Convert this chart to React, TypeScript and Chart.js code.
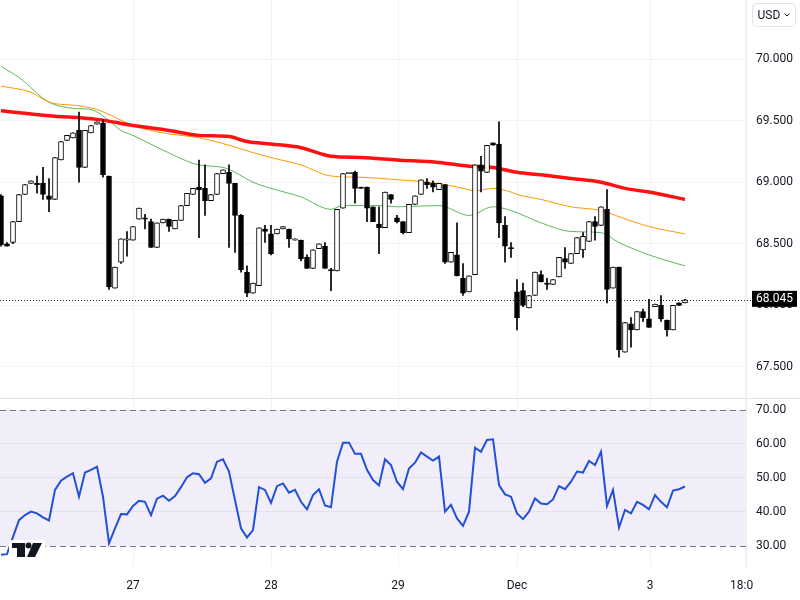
import React, { useEffect, useRef } from "react";
import { Chart, registerables } from "chart.js";

Chart.register(...registerables);

// ---- Candles (hourly), index 0..114 ----
const openP = [
  68.89, 68.5, 68.51, 68.68, 68.9, 68.99, 68.99, 68.99, 68.89, 68.86,
  69.18, 69.34, 69.36, 69.42, 69.12, 69.4, 69.47, 69.48, 69.05, 68.14,
  68.35, 68.53, 68.53, 68.7, 68.71, 68.68, 68.47, 68.67, 68.7, 68.62,
  68.69, 68.81, 68.9, 68.96, 68.95, 68.85, 68.9, 69.07, 69.08, 68.99,
  68.73, 68.27, 68.1, 68.16, 68.62, 68.58, 68.58, 68.62, 68.62, 68.53,
  68.53, 68.39, 68.3, 68.46, 68.48, 68.29, 68.28, 68.79, 69.07, 69.08,
  68.96, 68.96, 68.8, 68.66, 68.63, 68.9, 68.71, 68.68, 68.59, 68.82,
  68.9, 69.0, 68.99, 68.94, 68.98, 68.35, 68.41, 68.22, 68.11, 68.25,
  69.14, 69.08, 69.32, 69.31, 68.65, 68.47, 68.11, 68.12, 67.98, 68.08,
  68.25, 68.18, 68.17, 68.23, 68.38, 68.34, 68.42, 68.45, 68.52, 68.68,
  68.65, 68.78, 68.14, 68.31, 67.62, 67.85, 67.8, 67.95, 67.89, 67.99,
  68.0, 67.88, 67.8, 68.02, 68.02,
];
const highP = [
  68.9, 68.51, 68.68, 68.9, 68.98, 69.01, 69.05, 69.12, 69.03, 69.2,
  69.33, 69.38, 69.4, 69.57, 69.42, 69.46, 69.49, 69.51, 69.05, 68.31,
  68.54, 68.6, 68.64, 68.79, 68.74, 68.7, 68.67, 68.7, 68.7, 68.69,
  68.81, 68.91, 68.95, 69.18, 69.14, 68.9, 69.07, 69.1, 69.14, 68.99,
  68.74, 68.32, 68.18, 68.63, 68.65, 68.65, 68.62, 68.64, 68.62, 68.54,
  68.53, 68.41, 68.45, 68.5, 68.51, 68.3, 68.78, 69.07, 69.08, 69.09,
  68.96, 68.96, 68.8, 68.8, 68.92, 68.9, 68.73, 68.68, 68.82, 68.89,
  69.02, 69.03, 69.01, 68.99, 68.98, 68.43, 68.67, 68.34, 68.24, 69.14,
  69.21, 69.3, 69.32, 69.49, 68.72, 68.51, 68.21, 68.18, 68.08, 68.27,
  68.28, 68.22, 68.21, 68.39, 68.47, 68.42, 68.55, 68.59, 68.68, 68.72,
  68.8, 68.94, 68.31, 68.31, 67.86, 67.9, 67.95, 67.97, 68.05, 68.01,
  68.08, 67.88, 68.0, 68.02, 68.05,
];
const lowP = [
  68.48, 68.48, 68.5, 68.68, 68.9, 68.99, 68.91, 68.86, 68.76, 68.86,
  69.18, 69.34, 69.36, 69.0, 69.12, 69.4, 69.47, 69.04, 68.13, 68.14,
  68.34, 68.4, 68.53, 68.7, 68.62, 68.47, 68.47, 68.67, 68.6, 68.62,
  68.69, 68.81, 68.9, 68.55, 68.73, 68.85, 68.9, 69.07, 68.47, 68.43,
  68.27, 68.07, 68.1, 68.16, 68.51, 68.41, 68.58, 68.62, 68.47, 68.53,
  68.36, 68.3, 68.3, 68.46, 68.3, 68.12, 68.28, 68.79, 69.07, 68.83,
  68.95, 68.68, 68.68, 68.42, 68.63, 68.83, 68.67, 68.58, 68.59, 68.82,
  68.9, 68.95, 68.92, 68.94, 68.34, 68.35, 68.24, 68.08, 68.11, 68.25,
  68.92, 69.08, 69.3, 68.55, 68.35, 68.39, 67.8, 67.99, 67.98, 68.08,
  68.19, 68.13, 68.17, 68.23, 68.3, 68.34, 68.42, 68.39, 68.52, 68.53,
  68.65, 68.02, 68.14, 67.58, 67.62, 67.66, 67.8, 67.87, 67.82, 67.99,
  67.87, 67.75, 67.8, 68.0, 68.02,
];
const closeP = [
  68.49, 68.48, 68.68, 68.9, 68.98, 69.01, 68.98, 68.9, 68.86, 69.2,
  69.33, 69.38, 69.4, 69.12, 69.42, 69.46, 69.49, 69.06, 68.15, 68.31,
  68.54, 68.54, 68.64, 68.79, 68.7, 68.47, 68.67, 68.7, 68.64, 68.69,
  68.81, 68.91, 68.95, 68.94, 68.85, 68.9, 69.07, 69.1, 68.99, 68.73,
  68.29, 68.1, 68.18, 68.63, 68.6, 68.42, 68.62, 68.64, 68.54, 68.54,
  68.38, 68.3, 68.45, 68.5, 68.3, 68.28, 68.78, 69.07, 69.08, 68.95,
  68.95, 68.79, 68.68, 68.63, 68.92, 68.86, 68.68, 68.59, 68.82, 68.89,
  69.02, 68.98, 68.96, 68.99, 68.35, 68.43, 68.24, 68.1, 68.24, 69.14,
  69.09, 69.3, 69.3, 68.67, 68.48, 68.46, 67.9, 68.0, 68.08, 68.27,
  68.19, 68.17, 68.21, 68.39, 68.35, 68.42, 68.55, 68.56, 68.68, 68.64,
  68.8, 68.13, 68.31, 67.64, 67.86, 67.8, 67.95, 67.9, 67.82, 68.01,
  67.89, 67.8, 68.0, 68.0, 68.045,
];

// ---- Moving averages (read at candle indices) ----
const redIdx = [0, 8, 16, 22, 28, 33, 38, 41, 45, 50, 55, 60, 66, 73, 78, 82, 86, 90, 95, 100, 104, 108, 114];
const redVal = [69.58, 69.54, 69.51, 69.46, 69.42, 69.38, 69.37, 69.33, 69.31, 69.28, 69.21, 69.2, 69.18, 69.16, 69.13, 69.12, 69.08, 69.06, 69.03, 69.0, 68.95, 68.92, 68.86];
const orangeIdx = [0, 5, 8, 13, 16, 18, 22, 27, 33, 38, 42, 45, 50, 55, 60, 66, 73, 77, 79, 82, 85, 86, 90, 95, 100, 103, 108, 114];
const orangeVal = [69.78, 69.73, 69.65, 69.62, 69.59, 69.55, 69.46, 69.4, 69.36, 69.3, 69.24, 69.2, 69.14, 69.05, 69.04, 69.02, 68.99, 68.95, 68.93, 68.95, 68.92, 68.9, 68.86, 68.8, 68.77, 68.72, 68.64, 68.58];
const greenIdx = [0, 3, 8, 12, 15, 16, 18, 20, 22, 27, 33, 37, 39, 42, 45, 50, 55, 57, 63, 66, 73, 78, 82, 85, 90, 95, 100, 103, 108, 114];
const greenVal = [69.94, 69.85, 69.65, 69.6, 69.59, 69.57, 69.5, 69.42, 69.38, 69.26, 69.14, 69.12, 69.08, 69.0, 68.95, 68.88, 68.78, 68.81, 68.81, 68.8, 68.81, 68.73, 68.8, 68.77, 68.67, 68.6, 68.59, 68.51, 68.41, 68.32];

// ---- RSI ----
const rsiVals = [
  27.4, 27.6, 32.7, 37.6, 39.1, 40.1, 39.6, 38.4, 37.5, 46.5,
  49.2, 50.4, 51.4, 44.5, 51.6, 52.4, 53.3, 44.5, 30.8, 35.2,
  39.4, 39.3, 41.8, 43.3, 43.0, 39.1, 43.9, 44.8, 43.3, 44.7,
  47.3, 50.2, 51.4, 51.1, 48.6, 49.9, 54.8, 55.5, 51.9, 43.5,
  35.2, 32.5, 34.7, 47.3, 46.5, 42.7, 47.6, 48.4, 45.7, 46.5,
  43.0, 40.8, 45.0, 46.7, 41.9, 41.4, 54.8, 60.4, 60.4, 57.1,
  57.1, 52.4, 49.4, 47.8, 55.5, 53.8, 48.9, 46.7, 52.8, 54.5,
  57.5, 56.3, 55.1, 56.3, 40.1, 42.1, 38.1, 35.9, 40.1, 58.9,
  57.7, 61.2, 61.4, 47.9, 45.2, 44.5, 39.6, 37.9, 40.1, 44.0,
  42.5, 42.3, 43.7, 47.6, 46.7, 48.9, 51.9, 51.6, 55.0, 53.8,
  57.7, 41.8, 46.5, 35.4, 40.6, 39.6, 43.0, 42.1, 40.8, 45.0,
  43.0, 41.4, 46.3, 46.7, 47.5,
];
const rsiUpper = 70;
const rsiLower = 30;

// ---- Axis ticks ----
const timeTickPos = [22, 45, 66.17, 86, 108.17, 124];
const timeTickLabels = ["27", "28", "29", "Dec", "3", "18:00"];
const priceTicks = [67.5, 68, 68.5, 69, 69.5, 70];
const rsiTicks = [30, 40, 50, 60, 70];
const currency = "USD";

const X_MIN = -1 / 6;
const X_MAX = 745 / 6;
const PRICE_MIN = 67.248;
const PRICE_MAX = 70.479;
const RSI_MIN = 23.82;
const RSI_MAX = 73.53;
const AXIS_W = 54;
const FONT = "Roboto, 'Noto Sans', sans-serif";
const TEXT = "#131722";
const GRID = "#f0f3fa";

const lastPrice = closeP[closeP.length - 1];

function xScaleBase(showLabels: boolean) {
  return {
    type: "linear" as const,
    min: X_MIN,
    max: X_MAX,
    offset: false,
    bounds: "data" as const,
    afterBuildTicks: (s: any) => {
      s.ticks = timeTickPos.map((v) => ({ value: v }));
    },
    afterFit: (s: any) => {
      s.height = showLabels ? 33 : 0;
      s.paddingLeft = 0;
      s.paddingRight = 0;
    },
    ticks: {
      display: showLabels,
      autoSkip: false,
      maxRotation: 0,
      minRotation: 0,
      padding: 12,
      color: TEXT,
      font: { family: FONT, size: 12 },
      callback: (_v: any, i: number) => timeTickLabels[i],
    },
    grid: { color: GRID, drawTicks: false, offset: false },
    border: { display: false },
  };
}

function mainConfig(): any {
  const idx = openP.map((_, i) => i);
  const up = idx.map((i) => closeP[i] >= openP[i]);
  const line = (xs: number[], ys: number[], color: string, w: number) => ({
    type: "line",
    data: xs.map((x, k) => ({ x, y: ys[k] })),
    borderColor: color,
    borderWidth: w,
    pointRadius: 0,
    tension: 0.4,
    cubicInterpolationMode: "monotone",
    order: 5,
  });
  const overlay = {
    id: "mainOverlay",
    afterDatasetsDraw(chart: any) {
      const { ctx, chartArea, scales } = chart;
      const y = Math.round(scales.y.getPixelForValue(lastPrice)) + 0.5;
      ctx.save();
      ctx.strokeStyle = "#131722";
      ctx.lineWidth = 1;
      ctx.setLineDash([1, 2]);
      ctx.beginPath();
      ctx.moveTo(0, y);
      ctx.lineTo(chartArea.right + 6, y);
      ctx.stroke();
      ctx.restore();
    },
    afterDraw(chart: any) {
      const { ctx, chartArea, scales } = chart;
      const y = scales.y.getPixelForValue(lastPrice);
      const x0 = chartArea.right + 6;
      ctx.save();
      ctx.fillStyle = "#000";
      ctx.fillRect(x0, y - 9, 45, 16);
      ctx.fillStyle = "#fff";
      ctx.font = `12px ${FONT}`;
      ctx.textBaseline = "middle";
      ctx.textAlign = "left";
      ctx.fillText(lastPrice.toFixed(3), chartArea.right + 10, y - 0.5);
      // currency button
      const bx = chartArea.right + 6.5, by = 3.5, bw = 43, bh = 23, r = 4;
      ctx.beginPath();
      ctx.moveTo(bx + r, by);
      ctx.lineTo(bx + bw - r, by);
      ctx.quadraticCurveTo(bx + bw, by, bx + bw, by + r);
      ctx.lineTo(bx + bw, by + bh - r);
      ctx.quadraticCurveTo(bx + bw, by + bh, bx + bw - r, by + bh);
      ctx.lineTo(bx + r, by + bh);
      ctx.quadraticCurveTo(bx, by + bh, bx, by + bh - r);
      ctx.lineTo(bx, by + r);
      ctx.quadraticCurveTo(bx, by, bx + r, by);
      ctx.strokeStyle = "#e0e3eb";
      ctx.lineWidth = 1;
      ctx.stroke();
      ctx.fillStyle = TEXT;
      ctx.fillText(currency, bx + 5, by + bh / 2 + 0.5);
      ctx.beginPath();
      ctx.moveTo(bx + 32, by + 10);
      ctx.lineTo(bx + 34.5, by + 12.5);
      ctx.lineTo(bx + 37, by + 10);
      ctx.strokeStyle = TEXT;
      ctx.stroke();
      ctx.restore();
    },
  };
  return {
    type: "bar",
    data: {
      datasets: [
        line(redIdx, redVal, "#ff1111", 3.5),
        line(orangeIdx, orangeVal, "#ff9800", 1),
        line(greenIdx, greenVal, "#5cb85c", 1),
        {
          type: "bar",
          data: idx.map((i) => ({ x: i, y: [lowP[i], highP[i]] })),
          backgroundColor: "#000",
          borderWidth: 0,
          barThickness: 1,
          grouped: false,
          order: 2,
        },
        {
          type: "bar",
          data: idx.map((i) => ({ x: i, y: [openP[i], closeP[i]] })),
          backgroundColor: up.map((u) => (u ? "#ffffff" : "#000000")),
          borderColor: "#000",
          borderWidth: 1,
          borderSkipped: false,
          barThickness: 5,
          grouped: false,
          order: 1,
        },
      ],
    },
    options: {
      responsive: false,
      animation: false,
      events: [],
      layout: { padding: 0 },
      plugins: { legend: { display: false }, tooltip: { enabled: false } },
      scales: {
        x: xScaleBase(false),
        y: {
          position: "right",
          min: PRICE_MIN,
          max: PRICE_MAX,
          bounds: "data",
          afterBuildTicks: (s: any) => {
            s.ticks = priceTicks.map((v) => ({ value: v }));
          },
          afterFit: (s: any) => {
            s.width = AXIS_W;
            s.paddingTop = 0;
            s.paddingBottom = 0;
          },
          ticks: {
            padding: 10,
            color: TEXT,
            font: { family: FONT, size: 12 },
            callback: (v: any) => Number(v).toFixed(3),
          },
          grid: { color: GRID, drawTicks: false },
          border: { display: true, color: "#eceef2" },
        },
      },
    },
    plugins: [overlay],
  };
}

function rsiConfig(): any {
  const overlay = {
    id: "rsiOverlay",
    beforeDraw(chart: any) {
      const { ctx, chartArea, scales } = chart;
      const yT = scales.y.getPixelForValue(rsiUpper);
      const yB = scales.y.getPixelForValue(rsiLower);
      ctx.save();
      ctx.fillStyle = "rgba(126, 87, 194, 0.1)";
      ctx.fillRect(chartArea.left, yT, chartArea.right - chartArea.left, yB - yT);
      ctx.restore();
    },
    beforeDatasetsDraw(chart: any) {
      const { ctx, chartArea, scales } = chart;
      ctx.save();
      ctx.strokeStyle = "#787b86";
      ctx.lineWidth = 1;
      ctx.setLineDash([6, 4]);
      [rsiUpper, rsiLower].forEach((v) => {
        const y = Math.round(scales.y.getPixelForValue(v)) + 0.5;
        ctx.beginPath();
        ctx.moveTo(chartArea.left, y);
        ctx.lineTo(chartArea.right, y);
        ctx.stroke();
      });
      ctx.restore();
    },
    afterDraw(chart: any) {
      const { ctx, width, height } = chart;
      ctx.save();
      // panel separator
      ctx.strokeStyle = "#e0e3eb";
      ctx.lineWidth = 1;
      ctx.beginPath();
      ctx.moveTo(0, 0.5);
      ctx.lineTo(width, 0.5);
      ctx.stroke();
      // clip last time label like the reference
      ctx.fillStyle = "#fff";
      ctx.fillRect(753, 170, width - 753, height - 170);
      // TradingView-style logo
      ctx.fillStyle = "#fff";
      ctx.fillRect(9, 142, 36, 20);
      ctx.fillStyle = "#131722";
      ctx.fillRect(12, 145, 13, 5);
      ctx.fillRect(17, 145, 8, 14);
      ctx.beginPath();
      ctx.arc(28.5, 147.5, 3, 0, Math.PI * 2);
      ctx.fill();
      ctx.beginPath();
      ctx.moveTo(33, 145);
      ctx.lineTo(42, 145);
      ctx.lineTo(35, 159);
      ctx.lineTo(27, 159);
      ctx.closePath();
      ctx.fill();
      ctx.restore();
    },
  };
  return {
    type: "line",
    data: {
      datasets: [
        {
          data: rsiVals.map((v, i) => ({ x: i, y: v })),
          borderColor: "#2250d9",
          borderWidth: 2,
          pointRadius: 0,
          tension: 0,
        },
      ],
    },
    options: {
      responsive: false,
      animation: false,
      events: [],
      layout: { padding: 0 },
      plugins: { legend: { display: false }, tooltip: { enabled: false } },
      scales: {
        x: xScaleBase(true),
        y: {
          position: "right",
          min: RSI_MIN,
          max: RSI_MAX,
          bounds: "data",
          afterBuildTicks: (s: any) => {
            s.ticks = rsiTicks.map((v) => ({ value: v }));
          },
          afterFit: (s: any) => {
            s.width = AXIS_W;
            s.paddingTop = 0;
            s.paddingBottom = 0;
          },
          ticks: {
            padding: 10,
            color: TEXT,
            font: { family: FONT, size: 12 },
            callback: (v: any) => Number(v).toFixed(2),
          },
          grid: {
            drawTicks: false,
            color: (c: any) =>
              c.tick && (c.tick.value === rsiUpper || c.tick.value === rsiLower)
                ? "rgba(0,0,0,0)"
                : "#e4e1ec",
          },
          border: { display: true, color: "#eceef2" },
        },
      },
    },
    plugins: [overlay],
  };
}

export default function App() {
  const mainRef = useRef<HTMLCanvasElement>(null);
  const rsiRef = useRef<HTMLCanvasElement>(null);
  useEffect(() => {
    const c1 = new Chart(mainRef.current as HTMLCanvasElement, mainConfig());
    const c2 = new Chart(rsiRef.current as HTMLCanvasElement, rsiConfig());
    return () => {
      c1.destroy();
      c2.destroy();
    };
  }, []);
  return (
    <div
      style={{
        position: "fixed",
        left: 0,
        top: 0,
        width: 800,
        height: 600,
        background: "#fff",
        overflow: "hidden",
      }}
    >
      <canvas ref={mainRef} width={800} height={398} style={{ position: "absolute", left: 0, top: 0 }} />
      <canvas ref={rsiRef} width={800} height={202} style={{ position: "absolute", left: 0, top: 398 }} />
    </div>
  );
}
